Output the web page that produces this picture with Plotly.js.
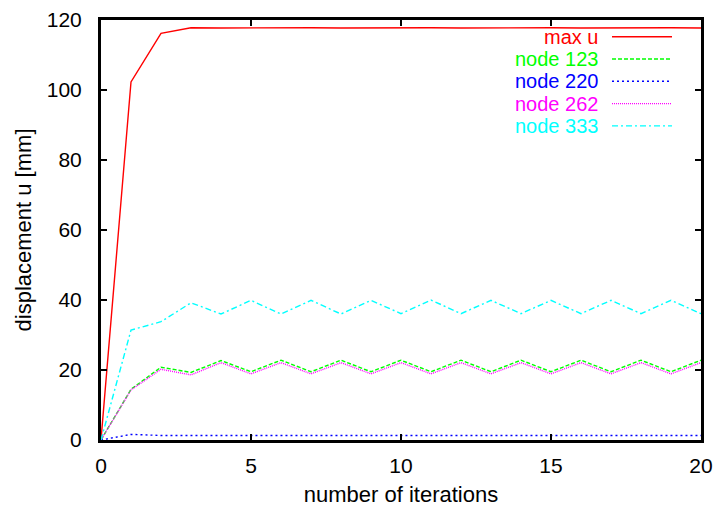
<!DOCTYPE html>
<html><head><meta charset="utf-8">
<script src="https://cdn.plot.ly/plotly-3.0.1.min.js"></script>
<style>body{margin:0;padding:0;background:#fff}#chart{width:720px;height:510px}</style>
</head><body><div id="chart"></div>
<script>
var iterations = [0,1,2,3,4,5,6,7,8,9,10,11,12,13,14,15,16,17,18,19,20];
var maxU    = [0,102.3,116.2,117.8,117.7,117.8,117.7,117.8,117.7,117.8,117.7,117.8,117.7,117.8,117.7,117.8,117.7,117.8,117.7,117.8,117.7];
var node123 = [0,14.5,20.8,19.3,22.7,19.5,22.8,19.5,22.8,19.5,22.8,19.5,22.8,19.5,22.8,19.5,22.8,19.5,22.8,19.5,22.8];
var node220 = [0,1.6,1.3,1.3,1.3,1.3,1.3,1.3,1.3,1.3,1.3,1.3,1.3,1.3,1.3,1.3,1.3,1.3,1.3,1.3,1.3];
var node262 = [0,14.3,20.2,18.6,22.1,18.9,22.1,18.9,22.1,18.9,22.1,18.9,22.1,18.9,22.1,18.9,22.1,18.9,22.1,18.9,22.1];
var node333 = [0,31.4,33.8,39.2,36.0,39.9,36.0,39.9,36.0,39.9,36.1,40.0,36.1,39.9,36.1,39.9,36.1,39.9,36.1,39.9,36.1];
var seriesNames = ["max u","node 123","node 220","node 262","node 333"];
var seriesData = [maxU,node123,node220,node262,node333];
var colors = ["#ff0000","#00ff00","#0000ff","#ff00ff","#00ffff"];
var dashes = ["solid","4px,2px","2px,3px","1px,1px","6px,3px,2px,3px"];

var traces = seriesData.map(function(d,i){
  return {x: iterations, y: d, type:"scatter", mode:"lines", name: seriesNames[i],
    line:{color:colors[i], width:1.4, dash:dashes[i]}, showlegend:false};
});

var fam = "Liberation Sans, Arial, sans-serif";
var annotations = [], shapes = [];
seriesNames.forEach(function(n,i){
  var yp = 1 - (16.7 + 22.3*i)/420;
  annotations.push({xref:"paper", yref:"paper", x:(599-101)/600, y:yp, xanchor:"right", yanchor:"middle",
    text:n, showarrow:false, borderpad:0, height:20, valign:"middle",
    font:{family:fam, size:20, color:colors[i]}});
  shapes.push({type:"line", xref:"paper", yref:"paper", x0:(612-101)/600, x1:(672-101)/600, y0:yp, y1:yp,
    line:{color:colors[i], width:1.4, dash:dashes[i]}});
});

var tickFont = {family:fam, size:21, color:"#000"};
var titleFont = {family:fam, size:22, color:"#000"};
var layout = {
  width:720, height:510,
  margin:{l:101, r:19, t:20, b:70, pad:0},
  paper_bgcolor:"#fff", plot_bgcolor:"#fff",
  font: titleFont,
  xaxis:{range:[0,20], tickvals:[0,5,10,15,20], ticks:"inside", ticklen:6, tickwidth:2, tickcolor:"#000",
    showline:true, linewidth:3, linecolor:"#000", mirror:"ticks", showgrid:false, zeroline:false,
    ticklabelstandoff:5,
    tickfont:tickFont, title:{text:"number of iterations", font:titleFont, standoff:11}},
  yaxis:{range:[0,120], tickvals:[0,20,40,60,80,100,120], ticks:"inside", ticklen:6, tickwidth:2, tickcolor:"#000",
    showline:true, linewidth:3, linecolor:"#000", mirror:"ticks", showgrid:false, zeroline:false,
    ticklabelstandoff:12,
    tickfont:tickFont, title:{text:"displacement u [mm]", font:titleFont, standoff:10}},
  annotations: annotations, shapes: shapes
};
Plotly.newPlot("chart", traces, layout, {displayModeBar:false, staticPlot:true});
</script></body></html>
